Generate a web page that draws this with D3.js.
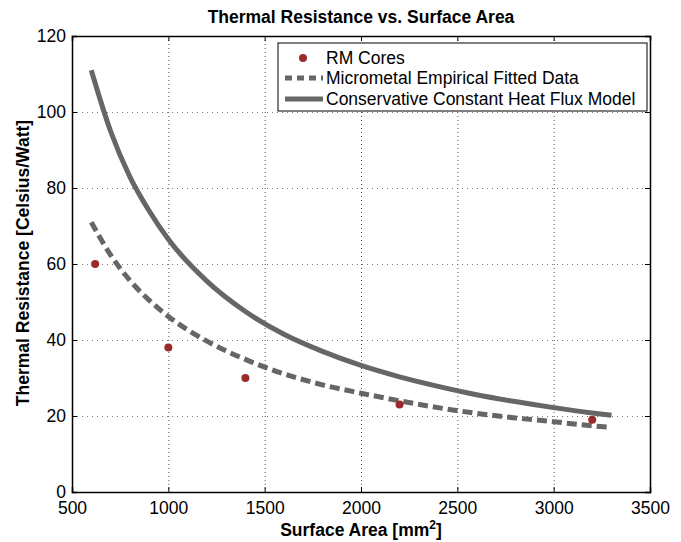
<!DOCTYPE html>
<html>
<head>
<meta charset="utf-8">
<script src="https://cdn.jsdelivr.net/npm/d3@7"></script>
<style>
  body { margin: 0; background: #fff; }
  svg text { font-family: "Liberation Sans", Arial, sans-serif; }
</style>
</head>
<body>
<svg id="chart" width="681" height="542"></svg>
<script>
// RM core measurements
var coreArea = [620, 1000, 1400, 2200, 3200]
var coreRes = [60, 38, 30, 23, 19]

// curves
var curveArea = [600, 700, 800, 900, 1000, 1200, 1400, 1600, 1800, 2000, 2200, 2400, 2600, 2800, 3000, 3200, 3300]
var fittedRes = [71, 62.4, 55.7, 50.5, 46.2, 39.7, 34.9, 31.1, 28.2, 26, 24, 22.2, 20.7, 19.5, 18.5, 17.4, 17.0]
var modelRes = [111, 95, 83, 74, 66.5, 55.5, 47.5, 41.5, 37, 33.3, 30.3, 27.8, 25.6, 23.8, 22.2, 20.8, 20.2]

var xTicks = [500, 1000, 1500, 2000, 2500, 3000, 3500]
var yTicks = [0, 20, 40, 60, 80, 100, 120]

var legendLabels = ["RM Cores", "Micrometal Empirical Fitted Data", "Conservative Constant Heat Flux Model"]

var svg = d3.select("#chart")
var plotL = 72, plotR = 650, plotT = 36, plotB = 492

var x = d3.scaleLinear().domain([500, 3500]).range([plotL, plotR])
var y = d3.scaleLinear().domain([0, 120]).range([plotB, plotT])

var lineGray = "#666666"
var dotRed = "#9b2b2b"
var fs = 17.5

// grid
var grid = svg.append("g")
grid.selectAll(".gx").data(xTicks.slice(1, -1)).join("line")
    .attr("x1", d => x(d) + 0.5).attr("x2", d => x(d) + 0.5)
    .attr("y1", plotT).attr("y2", plotB)
    .attr("stroke", "#555").attr("stroke-width", 1)
    .attr("stroke-dasharray", "1,3")
grid.selectAll(".gy").data(yTicks.slice(1, -1)).join("line")
    .attr("y1", d => y(d) + 0.5).attr("y2", d => y(d) + 0.5)
    .attr("x1", plotL).attr("x2", plotR)
    .attr("stroke", "#777").attr("stroke-width", 1)
    .attr("stroke-dasharray", "1,4")

// axes (MATLAB box, ticks inward on every side)
var tl = -5
svg.append("g").attr("transform", `translate(0,${plotB})`)
    .call(d3.axisBottom(x).tickValues(xTicks).tickSize(tl).tickPadding(10).tickFormat(d3.format("d")))
svg.append("g").attr("transform", `translate(0,${plotT})`)
    .call(d3.axisTop(x).tickValues(xTicks).tickSize(tl).tickFormat(""))
svg.append("g").attr("transform", `translate(${plotL},0)`)
    .call(d3.axisLeft(y).tickValues(yTicks).tickSize(tl).tickPadding(6).tickFormat(d3.format("d")))
svg.append("g").attr("transform", `translate(${plotR},0)`)
    .call(d3.axisRight(y).tickValues(yTicks).tickSize(tl).tickFormat(""))

svg.selectAll(".domain").attr("stroke", "#000").attr("stroke-width", 1.5)
svg.selectAll(".tick line").attr("stroke", "#000")
svg.selectAll(".tick text").attr("font-size", fs).attr("fill", "#000")
    .attr("font-family", "Liberation Sans, Arial, sans-serif")

// curves
var line = d3.line().x(d => x(d[0])).y(d => y(d[1])).curve(d3.curveMonotoneX)
svg.append("path")
    .datum(d3.zip(curveArea, modelRes))
    .attr("d", line)
    .attr("fill", "none").attr("stroke", lineGray).attr("stroke-width", 5)
svg.append("path")
    .datum(d3.zip(curveArea, fittedRes))
    .attr("d", line)
    .attr("fill", "none").attr("stroke", lineGray).attr("stroke-width", 5)
    .attr("stroke-dasharray", "10,5")

// points
svg.selectAll(".pt").data(d3.zip(coreArea, coreRes)).join("circle")
    .attr("cx", d => x(d[0])).attr("cy", d => y(d[1]))
    .attr("r", 4).attr("fill", dotRed)

// legend
var lg = svg.append("g").attr("transform", "translate(278,43)")
lg.append("rect").attr("width", 369).attr("height", 68)
    .attr("fill", "#fff").attr("stroke", "#000").attr("stroke-width", 1)
var rows = [15, 35, 56]
lg.append("circle").attr("cx", 25).attr("cy", rows[0]).attr("r", 4).attr("fill", dotRed)
lg.append("line").attr("x1", 7).attr("x2", 45).attr("y1", rows[1]).attr("y2", rows[1])
    .attr("stroke", lineGray).attr("stroke-width", 5).attr("stroke-dasharray", "7,5")
lg.append("line").attr("x1", 7).attr("x2", 45).attr("y1", rows[2]).attr("y2", rows[2])
    .attr("stroke", lineGray).attr("stroke-width", 5)
lg.selectAll(".lt").data(legendLabels).join("text")
    .attr("x", 48).attr("y", (d, i) => rows[i] + 6)
    .attr("font-size", fs).text(d => d)

// titles
svg.append("text").attr("x", (plotL + plotR) / 2).attr("y", 23)
    .attr("text-anchor", "middle").attr("font-size", fs).attr("font-weight", "bold")
    .text("Thermal Resistance vs. Surface Area")

var xl = svg.append("text").attr("x", (plotL + plotR) / 2).attr("y", 536)
    .attr("text-anchor", "middle").attr("font-size", fs).attr("font-weight", "bold")
xl.append("tspan").text("Surface Area [mm")
xl.append("tspan").attr("dy", -7).attr("font-size", 12).text("2")
xl.append("tspan").attr("dy", 7).text("]")

svg.append("text")
    .attr("transform", `translate(29,${(plotT + plotB) / 2 - 1}) rotate(-90)`)
    .attr("text-anchor", "middle").attr("font-size", fs).attr("font-weight", "bold")
    .text("Thermal Resistance [Celsius/Watt]")
</script>
</body>
</html>
